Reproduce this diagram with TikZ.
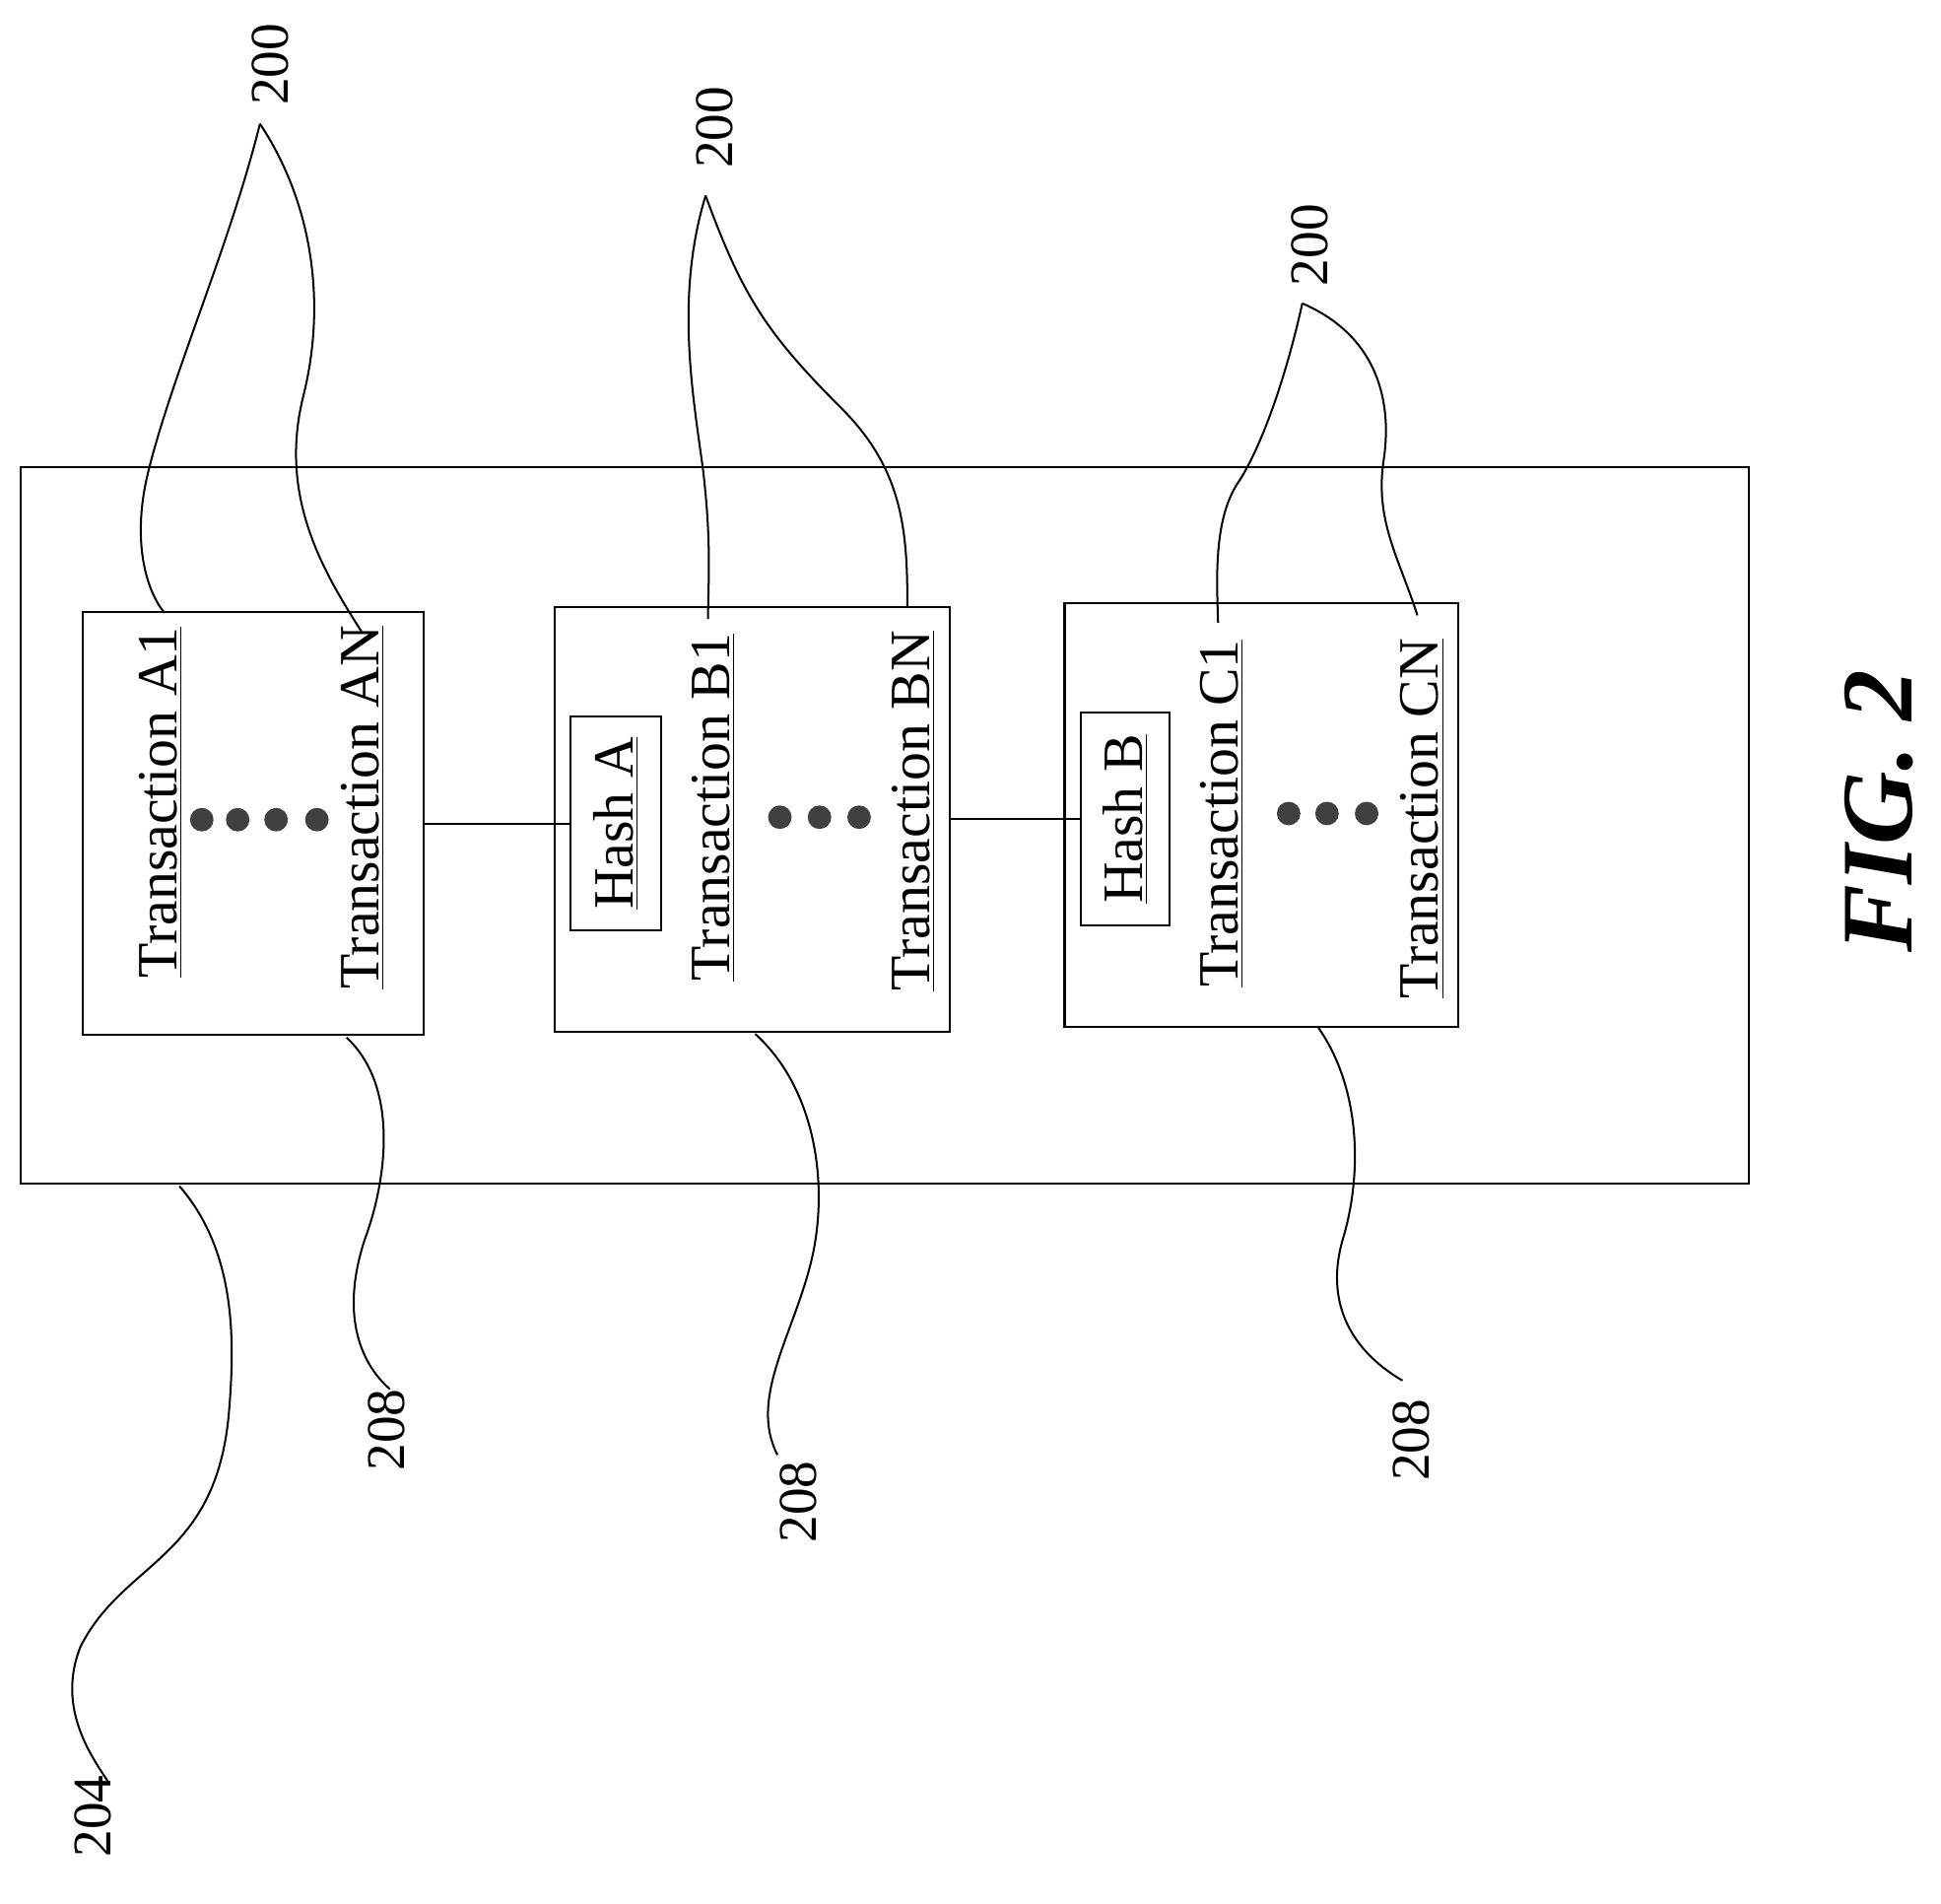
\documentclass[tikz,border=0pt]{standalone}
\usepackage{fontspec}
\setmainfont{Liberation Serif}
\begin{document}
\begin{tikzpicture}[x=0.5pt,y=-0.5pt,line width=0.8pt,
  tx/.style={rotate=90,inner sep=0pt,font=\fontsize{23}{26}\selectfont},
  lb/.style={rotate=90,inner sep=0pt,font=\fontsize{22}{26}\selectfont},
  bx/.style={draw,inner sep=0pt},
  dot/.style={circle,fill=black!75,inner sep=0pt,minimum size=19pt*0.5}]
\useasboundingbox (0,0) rectangle (1568,1537);
\node[bx,minimum width=1396*0.5pt,minimum height=579*0.5pt] (outer) at (715,666.5) {};
\node[bx,minimum width=275*0.5pt,minimum height=342*0.5pt] (ba) at (204.5,665) {};
\node[bx,minimum width=319*0.5pt,minimum height=343*0.5pt] (bb) at (607.5,661.5) {};
\node[bx,minimum width=318*0.5pt,minimum height=342*0.5pt] (bc) at (1019,658) {};
\node[bx,tx,minimum width=173*0.5pt,minimum height=73*0.5pt] (ha) at (497.5,665) {\underline{Hash A}};
\node[bx,tx,minimum width=172*0.5pt,minimum height=72*0.5pt] (hb) at (909,661.5) {\underline{Hash B}};
\node[tx] (a1) at (130,648) {\underline{Transaction A1}};
\node[tx] (an) at (293,652) {\underline{Transaction AN}};
\node[tx] (b1) at (576,652) {\underline{Transaction B1}};
\node[tx] (bn) at (738,655) {\underline{Transaction BN}};
\node[tx] (c1) at (987,657) {\underline{Transaction C1}};
\node[tx] (cn) at (1149,661) {\underline{Transaction CN}};
\foreach \x in {163,192,223,256} \node[dot] at (\x,662) {};
\foreach \x in {630,662,694} \node[dot] at (\x,660) {};
\foreach \x in {1041,1072,1104} \node[dot] at (\x,657) {};
\draw (ba) -- (ha);
\draw (bb) -- (hb);
% labels
\node[lb] (l200a) at (218,52) {200};
\node[lb] (l200b) at (577,103) {200};
\node[lb] (l200c) at (1058,198) {200};
\node[lb] (l208a) at (312,1155) {208};
\node[lb] (l208b) at (645,1213) {208};
\node[lb] (l208c) at (1140,1163) {208};
\node[lb] (l204) at (75,1467) {204};
\node[rotate=90,inner sep=0pt,font=\fontsize{41}{46}\selectfont\bfseries\itshape] (fig) at (1518,655) {FIG. 2};
\coordinate (pa) at (210,100);
\coordinate (pb) at (570,158);
\coordinate (pc) at (1052,245);
\draw (pa) .. controls (185,200) and (140,300) .. (120,380) .. controls (105,440) and (120,480) .. (133,495);
\draw (pa) .. controls (250,160) and (265,240) .. (245,320) .. controls (225,400) and (260,460) .. (292,510);
\draw (pb) .. controls (545,240) and (560,320) .. (568,380) .. controls (575,440) and (572,470) .. (572,500);
\draw (pb) .. controls (600,240) and (620,270) .. (680,330) .. controls (730,380) and (733,430) .. (733,490);
\draw (pc) .. controls (1040,300) and (1020,360) .. (1000,390) .. controls (980,420) and (983,470) .. (984,503);
\draw (pc) .. controls (1110,270) and (1125,320) .. (1118,370) .. controls (1110,420) and (1130,450) .. (1145,497);
\draw (280,838) .. controls (325,880) and (310,960) .. (295,1000) .. controls (275,1060) and (290,1100) .. (315,1122);
\draw (610,835) .. controls (660,880) and (670,960) .. (655,1020) .. controls (640,1080) and (605,1130) .. (628,1175);
\draw (1065,830) .. controls (1100,880) and (1100,950) .. (1085,1000) .. controls (1070,1050) and (1090,1090) .. (1133,1115);
\draw (145,958) .. controls (190,1010) and (190,1080) .. (185,1140) .. controls (175,1260) and (100,1260) .. (65,1330) .. controls (45,1380) and (75,1420) .. (88,1440);
\end{tikzpicture}
\end{document}
